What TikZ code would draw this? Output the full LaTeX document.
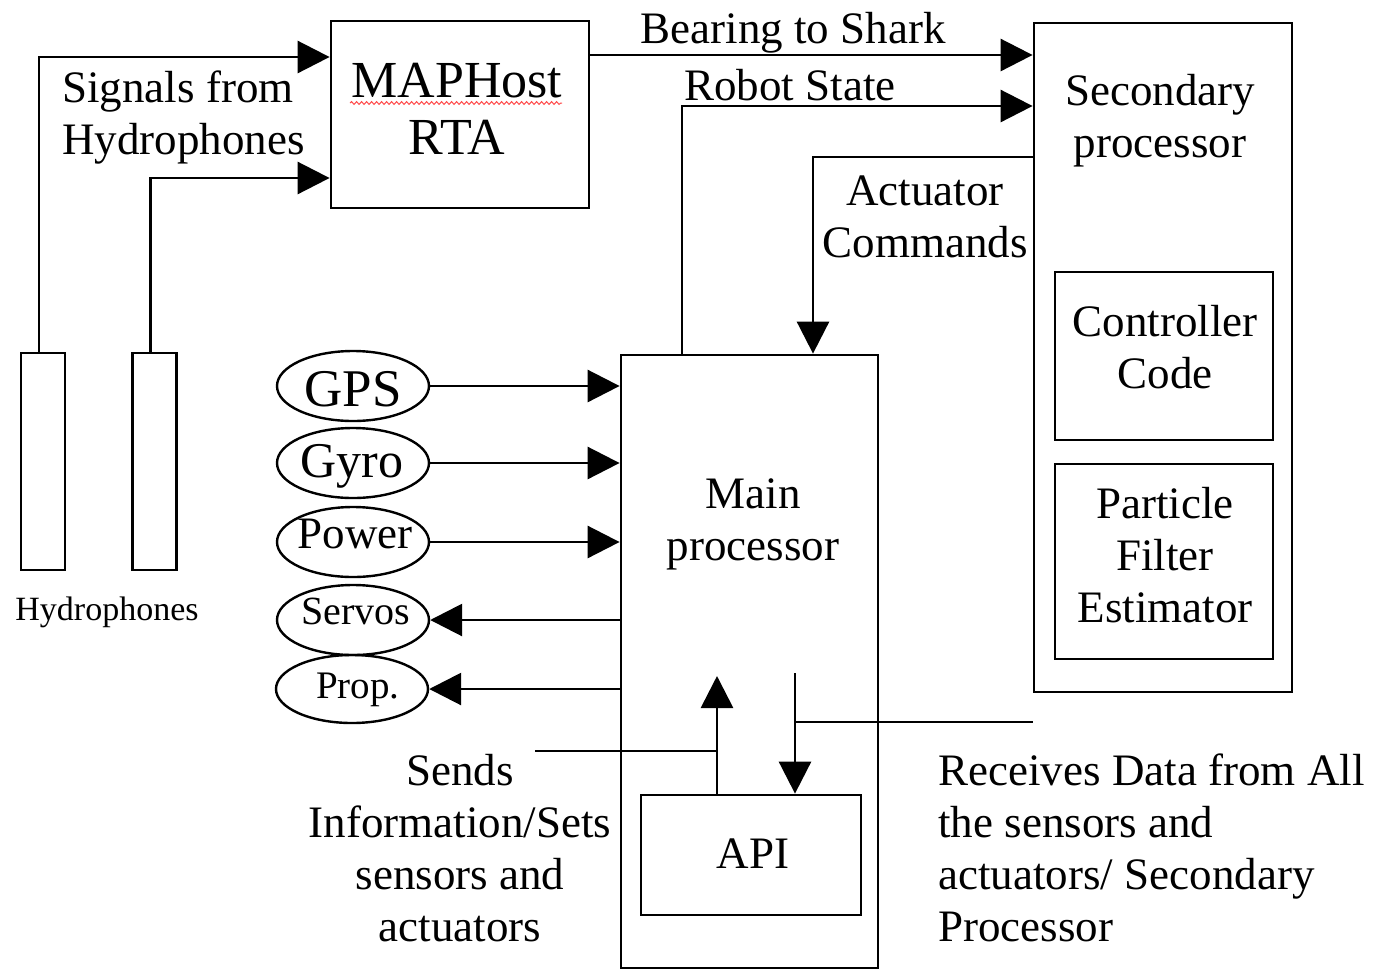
\documentclass[tikz,border=0pt]{standalone}
\usepackage{fontspec}
\setmainfont{Liberation Serif}
\usetikzlibrary{arrows.meta,shapes.geometric,decorations.pathmorphing}
\tikzset{
  box/.style={draw, line width=1.4pt, inner sep=0pt},
  sensor/.style={draw, ellipse, line width=1.2pt, minimum width=76pt, minimum height=35pt, inner sep=0pt},
  txt/.style={font=\fontsize{22.5}{26}\selectfont, align=center, inner sep=0pt},
  arr/.style={-{Triangle[length=16pt,width=16pt]}, line width=1.4pt},
  lin/.style={line width=1.4pt}
}
\begin{document}
\begin{tikzpicture}[x=0.5pt,y=0.5pt,yscale=-1,xscale=1]
		\useasboundingbox (0,0) rectangle (1387,971);
		\node[box, minimum width=129pt, minimum height=93.5pt] (map) at (460,114.5) {};
		\node[txt, font=\fontsize{26}{28.5}\selectfont] (maptxt) at (457,108.5) {MAPHost\\RTA};
		\draw[red!70, line width=0.5pt, decorate, decoration={snake, amplitude=0.7pt, segment length=2.5pt}] (350,103) -- (562,103);
		\node[box, minimum width=129pt, minimum height=334.5pt] (sec) at (1163,357.5) {};
		\node[txt] (sectxt) at (1160,120.5) {Secondary\\processor};
		\node[box, minimum width=109pt, minimum height=84pt] (ctrl) at (1164,356) {};
		\node[txt] (ctrltxt) at (1165,347.5) {Controller\\Code};
		\node[box, minimum width=109pt, minimum height=97.5pt] (pf) at (1164,561.5) {};
		\node[txt] (pftxt) at (1165,555.5) {Particle\\Filter\\Estimator};
		\node[box, minimum width=128.5pt, minimum height=306.5pt] (main) at (749.5,661.5) {};
		\node[txt] (maintxt) at (753,524.5) {Main\\processor};
		\node[box, minimum width=110pt, minimum height=60pt] (api) at (751,855) {};
		\node[txt, anchor=base] (apitxt) at (753,868) {API};
		\node[box, minimum width=22pt, minimum height=108.5pt] (hyd1) at (43,461.5) {};
		\node[box, minimum width=22pt, minimum height=108.5pt] (hyd2) at (154.5,461.5) {};
		\node[font=\fontsize{17}{20}\selectfont, anchor=base, inner sep=0pt] (hydtxt) at (107,620) {Hydrophones};
		\node[sensor] (gps) at (353,386) {};
		\node[sensor] (gyro) at (353,463) {};
		\node[sensor] (power) at (353,542) {};
		\node[sensor] (servos) at (353,620) {};
		\node[sensor, minimum height=34pt] (prop) at (352,689) {};
		\node[txt, anchor=base, font=\fontsize{26.5}{30}\selectfont] (gpstxt) at (353,406) {GPS};
		\node[txt, anchor=base, font=\fontsize{25}{28}\selectfont] (gyrotxt) at (352,477) {Gyro};
		\node[txt, anchor=base, font=\fontsize{22.5}{26}\selectfont] (powertxt) at (355,548) {Power};
		\node[txt, anchor=base, font=\fontsize{20}{24}\selectfont] (servostxt) at (356,624) {Servos};
		\node[txt, anchor=base, font=\fontsize{19.5}{23}\selectfont] (proptxt) at (358,698) {Prop.};
		\draw[arr] (gps.east) -- (gps.east -| main.west);
		\draw[arr] (gyro.east) -- (gyro.east -| main.west);
		\draw[arr] (power.east) -- (power.east -| main.west);
		\draw[arr] (servos.east -| main.west) -- (servos.east);
		\draw[arr] (prop.east -| main.west) -- (prop.east);
		\draw[arr] ([xshift=-2pt]hyd1.north) |- (map.west |- 0,57);
		\draw[arr] ([xshift=-2pt]hyd2.north) |- (map.west |- 0,178);
		\node[txt, align=left, anchor=west] (sig) at (62,117.5) {Signals from\\Hydrophones};
		\draw[arr] (map.east |- 0,55) -- (sec.west |- 0,55);
		\node[txt, anchor=base] (bearing) at (793,43) {Bearing to Shark};
		\draw[arr] (main.north -| 682,0) |- (sec.west |- 0,106);
		\node[txt, anchor=base] (robot) at (790,100) {Robot State};
		\draw[arr] (sec.west |- 0,157) -| (main.north -| 813,0);
		\node[txt] (act) at (925,217) {Actuator\\Commands};
		\coordinate (sendfree) at (535,751);
		\coordinate (sendtop) at (717,676);
		\draw[lin] (sendfree) -- (sendfree -| sendtop);
		\draw[arr] (api.north -| sendtop) -- (sendtop);
		\node[txt] (sends) at (460,848) {Sends\\Information/Sets\\sensors and\\actuators};
		\coordinate (rcvtop) at (795,673);
		\draw[arr] (rcvtop) -- (api.north -| rcvtop);
		\draw[lin] (rcvtop |- 0,722) -- (sec.west |- 0,722);
		\node[txt, align=left, anchor=west] (rcv) at (938,848) {Receives Data from All\\the sensors and\\actuators/ Secondary\\Processor};
\end{tikzpicture}
\end{document}
